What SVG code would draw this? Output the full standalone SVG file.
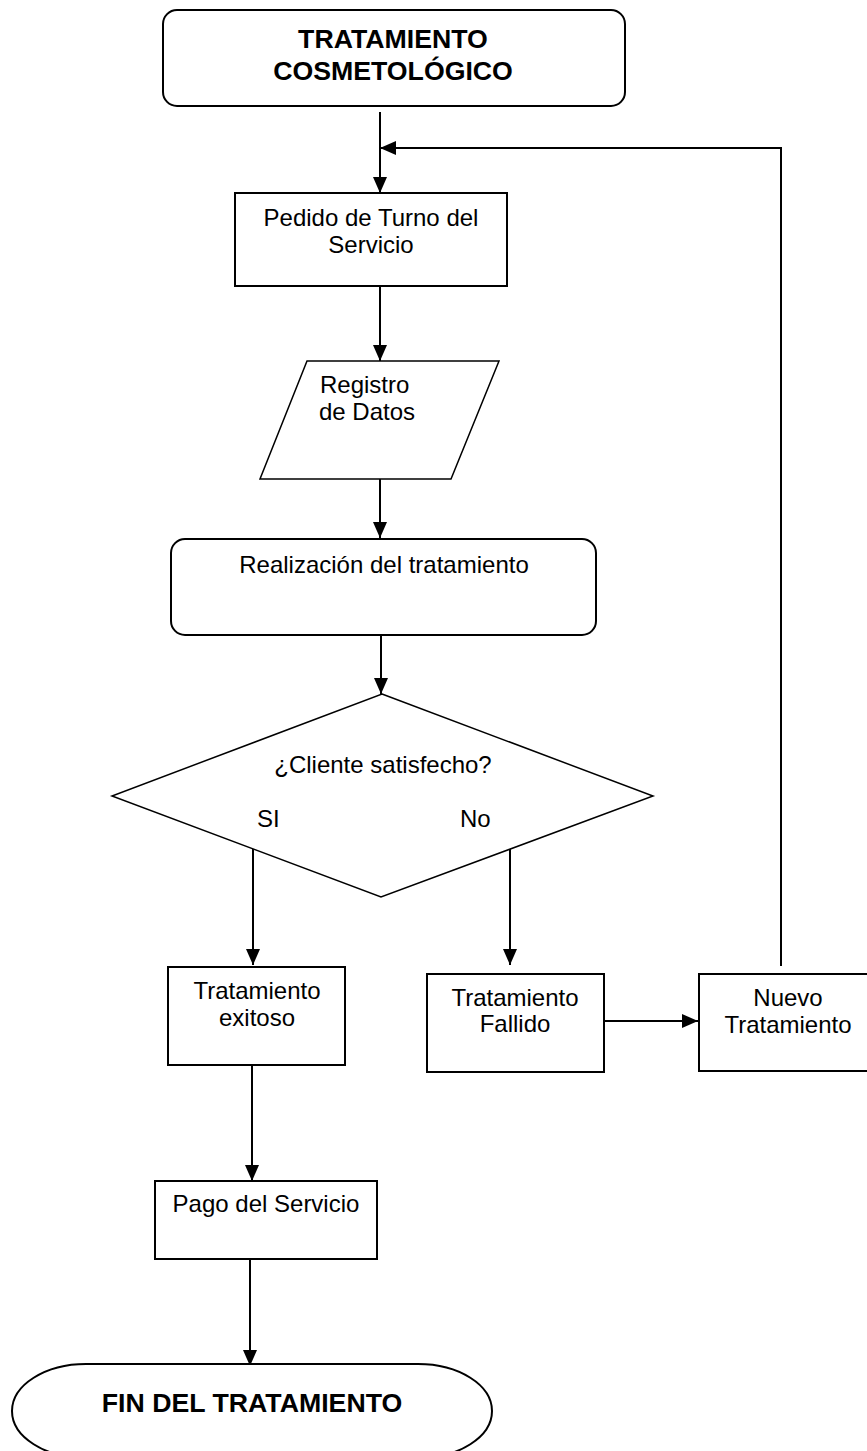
<svg xmlns="http://www.w3.org/2000/svg" width="867" height="1451" viewBox="0 0 867 1451">
<style>
.box{fill:#fff;stroke:#000;stroke-width:2}
.thin{fill:#fff;stroke:#000;stroke-width:1.5}
.t{font-family:"Liberation Sans",Arial,sans-serif;font-size:24px;fill:#000}
.b{font-family:"Liberation Sans",Arial,sans-serif;font-size:26.7px;font-weight:bold;fill:#000}
.c{text-anchor:middle}
.ln{fill:none;stroke:#000;stroke-width:2}
</style>
<defs>
<marker id="ah" markerUnits="userSpaceOnUse" markerWidth="16" markerHeight="14" refX="16" refY="7" orient="auto">
<path d="M0,0 L16,7 L0,14 z" fill="#000"/>
</marker>
</defs>
<rect width="867" height="1451" fill="#fff"/>
<g id="connectors">
<line class="ln" x1="380" y1="112" x2="380" y2="193" marker-end="url(#ah)"/>
<polyline class="ln" points="781,966 781,148 380,148" marker-end="url(#ah)"/>
<line class="ln" x1="380" y1="286" x2="380" y2="361" marker-end="url(#ah)"/>
<line class="ln" x1="380" y1="479" x2="380" y2="538" marker-end="url(#ah)"/>
<line class="ln" x1="381" y1="636" x2="381" y2="694" marker-end="url(#ah)"/>
<line class="ln" x1="253" y1="848" x2="253" y2="965" marker-end="url(#ah)"/>
<line class="ln" x1="510" y1="849" x2="510" y2="965" marker-end="url(#ah)"/>
<line class="ln" x1="604" y1="1021" x2="698" y2="1021" marker-end="url(#ah)"/>
<line class="ln" x1="252" y1="1065" x2="252" y2="1181" marker-end="url(#ah)"/>
<line class="ln" x1="250" y1="1259" x2="250" y2="1366" marker-end="url(#ah)"/>
</g>
<g id="inicio">
<rect class="box" x="163" y="10" width="462" height="96" rx="14"/>
<text class="b c" x="393" y="48">TRATAMIENTO</text>
<text class="b c" x="393" y="80">COSMETOLÓGICO</text>
</g>
<g id="pedido">
<rect class="box" x="235" y="193" width="272" height="93"/>
<text class="t c" x="371" y="226">Pedido de Turno del</text>
<text class="t c" x="371" y="253">Servicio</text>
</g>
<g id="registro">
<polygon class="thin" points="307,361 499,361 451,479 260,479"/>
<text class="t" x="320" y="393">Registro</text>
<text class="t" x="319" y="420">de Datos</text>
</g>
<g id="realizacion">
<rect class="box" x="171" y="539" width="425" height="96" rx="14"/>
<text class="t c" x="384" y="573">Realización del tratamiento</text>
</g>
<g id="decision">
<polygon class="thin" points="382,694 653,796 381,897 112,796"/>
<text class="t c" x="383" y="773">¿Cliente satisfecho?</text>
<text class="t" x="257" y="827">SI</text>
<text class="t" x="460" y="827">No</text>
</g>
<g id="exitoso">
<rect class="box" x="168" y="967" width="177" height="98"/>
<text class="t c" x="257" y="999">Tratamiento</text>
<text class="t c" x="257" y="1026">exitoso</text>
</g>
<g id="fallido">
<rect class="box" x="427" y="974" width="177" height="98"/>
<text class="t c" x="515" y="1006">Tratamiento</text>
<text class="t c" x="515" y="1032">Fallido</text>
</g>
<g id="nuevo">
<rect class="box" x="699" y="974" width="178" height="97"/>
<text class="t c" x="788" y="1006">Nuevo</text>
<text class="t c" x="788" y="1033">Tratamiento</text>
</g>
<g id="pago">
<rect class="box" x="155" y="1181" width="222" height="78"/>
<text class="t c" x="266" y="1212">Pago del Servicio</text>
</g>
<g id="fin">
<rect class="box" x="12" y="1364" width="480" height="94" rx="74" ry="47"/>
<text class="b c" x="252" y="1412">FIN DEL TRATAMIENTO</text>
</g>
</svg>
